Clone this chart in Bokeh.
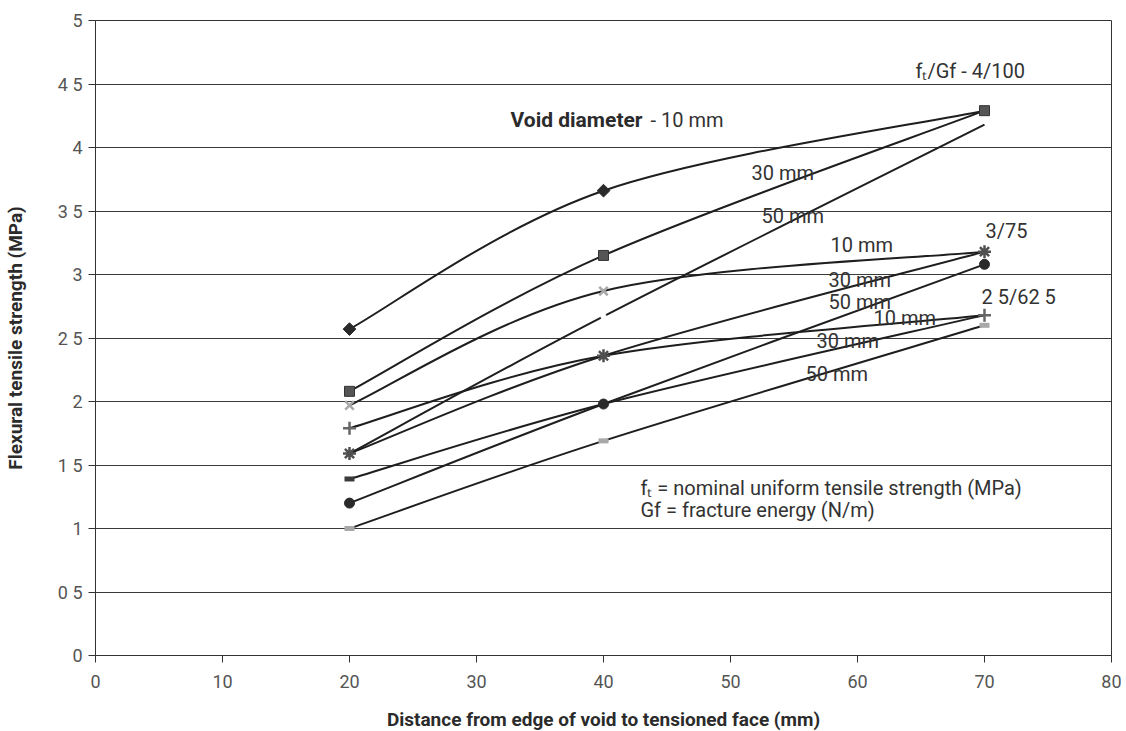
import math
from bokeh.plotting import figure
from bokeh.models import Range1d, FixedTicker, ColumnDataSource
from bokeh.core.properties import value
from bokeh.embed import file_html
from bokeh.resources import INLINE

# ---------------- data ----------------
x_pos = [20, 40, 70]

# ft/Gf = 4/100
s4_10 = [2.57, 3.66, 4.29]
s4_30 = [2.08, 3.15, 4.29]
s4_50 = [1.59, 2.67, 4.18]
# ft/Gf = 3/75
s3_10 = [1.97, 2.87, 3.18]
s3_30 = [1.59, 2.36, 3.18]
s3_50 = [1.20, 1.98, 3.08]
# ft/Gf = 2.5/62.5
s25_10 = [1.79, 2.36, 2.68]
s25_30 = [1.39, 1.98, 2.68]
s25_50 = [1.00, 1.69, 2.60]

x_ticks = [0, 10, 20, 30, 40, 50, 60, 70, 80]
y_ticks = [0, 0.5, 1, 1.5, 2, 2.5, 3, 3.5, 4, 4.5, 5]
y_tick_labels = ["0", "0 5", "1", "1 5", "2", "2 5", "3", "3 5", "4", "4 5", "5"]

FONT = "Roboto"
INK = "#2b2b2b"

p = figure(frame_width=1016, frame_height=635, x_range=Range1d(0, 80), y_range=Range1d(0, 5),
           output_backend="svg", toolbar_location=None,
           min_border_left=91, min_border_right=10, min_border_top=20, min_border_bottom=75)
p.background_fill_color = "white"
p.border_fill_color = "white"
p.outline_line_color = "#333333"
p.outline_line_width = 1

p.xgrid.visible = False
p.ygrid.ticker = FixedTicker(ticks=y_ticks)
p.ygrid.grid_line_color = "#3a3a3a"
p.ygrid.grid_line_width = 1

for ax in (p.xaxis[0], p.yaxis[0]):
    ax.axis_line_color = "#333333"
    ax.major_tick_line_color = "#333333"
    ax.major_tick_out = 7
    ax.major_tick_in = 0
    ax.minor_tick_line_color = None
    ax.major_label_text_font = FONT
    ax.major_label_text_font_size = "18px"
    ax.major_label_text_color = "#555555"
    ax.axis_label_text_font = FONT
    ax.axis_label_text_font_style = "bold"
    ax.axis_label_text_font_size = "19px"
    ax.axis_label_text_color = INK

p.xaxis.ticker = FixedTicker(ticks=x_ticks)
p.yaxis.ticker = FixedTicker(ticks=y_ticks)
p.yaxis.major_label_overrides = {float(t): lab for t, lab in zip(y_ticks, y_tick_labels)}
p.xaxis.axis_label = "Distance from edge of void to tensioned face (mm)"
p.yaxis.axis_label = "Flexural tensile strength (MPa)"
p.xaxis.major_label_standoff = 12
p.yaxis.major_label_standoff = 6
p.xaxis.axis_label_standoff = 17
p.yaxis.axis_label_standoff = 28


def smooth(xs, ys):
    """Smoothed-line rendering (Catmull-Rom style bezier) between data points."""
    n = len(xs)
    px = [xs[0]] + list(xs) + [xs[-1]]
    py = [ys[0]] + list(ys) + [ys[-1]]
    out = dict(x0=[], y0=[], x1=[], y1=[], cx0=[], cy0=[], cx1=[], cy1=[])
    for i in range(n - 1):
        a = i + 1
        out["x0"].append(px[a]); out["y0"].append(py[a])
        out["x1"].append(px[a + 1]); out["y1"].append(py[a + 1])
        out["cx0"].append(px[a] + (px[a + 1] - px[a - 1]) / 6.0)
        out["cy0"].append(py[a] + (py[a + 1] - py[a - 1]) / 6.0)
        out["cx1"].append(px[a + 1] - (px[a + 2] - px[a]) / 6.0)
        out["cy1"].append(py[a + 1] - (py[a + 2] - py[a]) / 6.0)
    return ColumnDataSource(out)


all_series = [s4_10, s4_30, s4_50, s3_10, s3_30, s3_50, s25_10, s25_30, s25_50]
for s in all_series:
    p.bezier(x0="x0", y0="y0", x1="x1", y1="y1", cx0="cx0", cy0="cy0", cx1="cx1", cy1="cy1",
             source=smooth(x_pos, s), line_color="#1e1e1e", line_width=2)

# gap in the 4/100 - 50 mm line at its middle point (white marker)
p.scatter([x_pos[1]], [s4_50[1]], marker="circle", size=6, fill_color="white", line_color=None)


def marks(ys, show, **kw):
    xs = [x for x, s in zip(x_pos, show) if s]
    yv = [y for y, s in zip(ys, show) if s]
    p.scatter(xs, yv, **kw)


marks(s4_10, [1, 1, 0], marker="square", angle=math.pi / 4, size=9,
      fill_color="#2a2a2a", line_color="#2a2a2a")
marks(s4_30, [1, 1, 1], marker="square", size=10, fill_color="#555555", line_color="#333333")
marks(s25_30, [1, 0, 0], marker="dash", size=10, line_color="#3a3a3a", line_width=5)
marks(s25_10, [1, 0, 1], marker="cross", size=13, line_color="#666666", line_width=2.5)
marks(s3_10, [1, 1, 0], marker="x", size=12, line_color="#a8a8a8", line_width=2.5)
marks(s3_30, [1, 1, 1], marker="asterisk", size=13, line_color="#505050", line_width=2.5)
marks(s3_50, [1, 1, 1], marker="circle", size=10, fill_color="#2a2a2a", line_color="#2a2a2a")
marks(s25_50, [1, 1, 1], marker="dash", size=10, line_color="#a8a8a8", line_width=5)

# ---------------- annotations ----------------
lab_text = ["30 mm", "50 mm", "f\u209c/Gf - 4/100",
            "10 mm", "3/75", "30 mm", "50 mm",
            "2 5/62 5", "10 mm", "30 mm", "50 mm",
            "f\u209c = nominal uniform tensile strength (MPa)", "Gf = fracture energy (N/m)"]
lab_x = [51.65, 52.44, 64.57, 57.87, 70.08, 57.72, 57.72, 69.76, 61.26, 56.77, 55.91, 42.91, 42.91]
lab_y = [3.80, 3.457, 4.606, 3.236, 3.346, 2.953, 2.787, 2.819, 2.661, 2.48, 2.22, 1.315, 1.142]
p.text(lab_x, lab_y, text=lab_text, text_font=value(FONT), text_font_size="20px",
       text_color="#333333", text_baseline="middle", text_align="left")

p.text([32.68], [4.213], text=["Void diameter"], text_font=value(FONT), text_font_size="21px",
       text_font_style="bold", text_color="#2b2b2b", text_baseline="middle", text_align="left")
p.text([43.7], [4.213], text=["- 10 mm"], text_font=value(FONT), text_font_size="20px",
       text_color="#333333", text_baseline="middle", text_align="left")

open("out.html", "w").write(file_html(p, INLINE))
